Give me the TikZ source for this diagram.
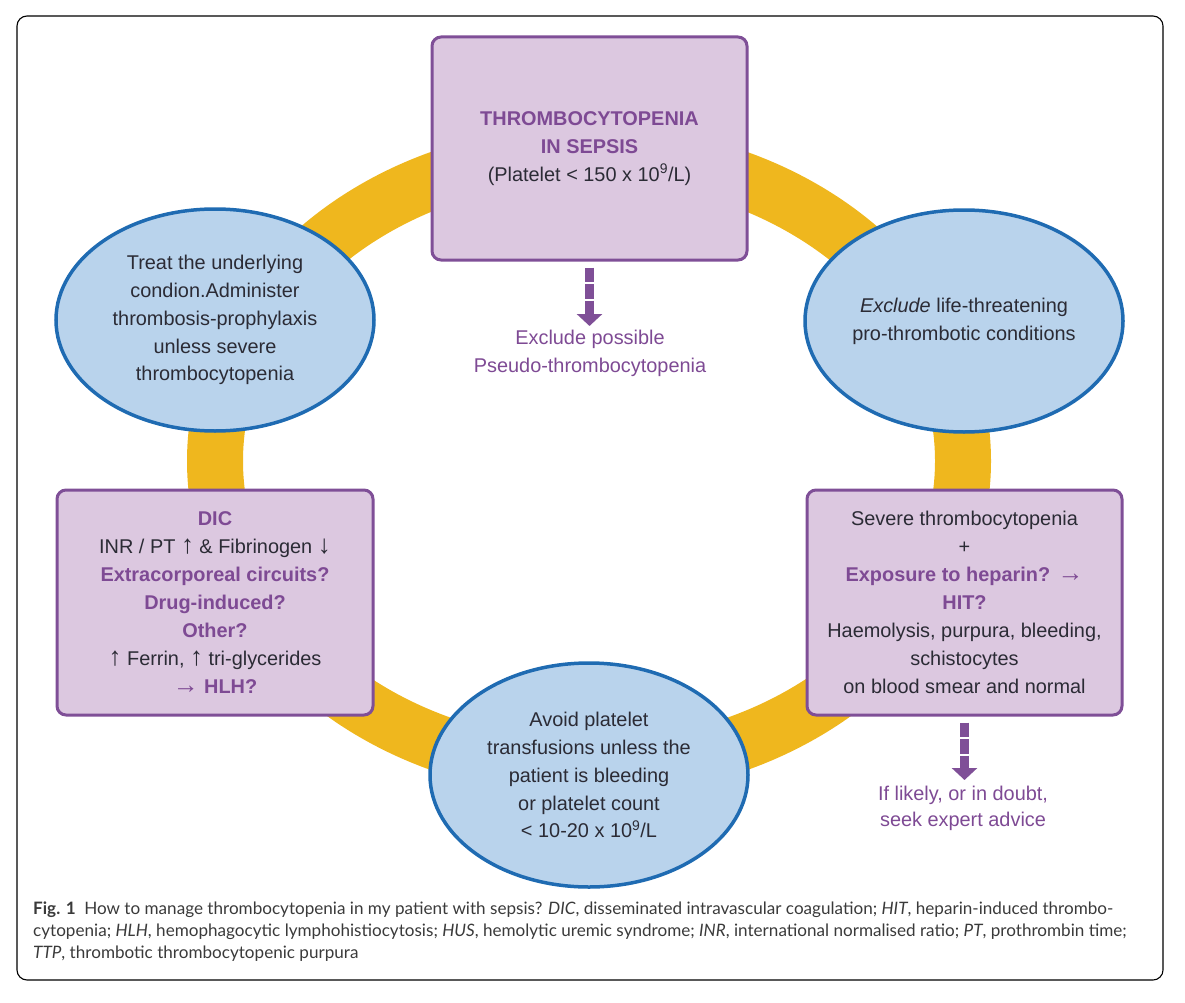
\documentclass[tikz,border=0pt]{standalone}
\usepackage{fontspec}
\usepackage{graphicx}
\setmainfont{Liberation Sans}
\newfontfamily\capfont{Lato}
\usetikzlibrary{shapes.geometric,arrows.meta}
\definecolor{ringY}{HTML}{EFB71E}
\definecolor{boxF}{HTML}{DCC8E0}
\definecolor{boxD}{HTML}{7F4F97}
\definecolor{purT}{HTML}{7E4A94}
\definecolor{ellF}{HTML}{B9D3EC}
\definecolor{ellD}{HTML}{1F6BB2}
\definecolor{txt}{HTML}{2B2B35}
\definecolor{capT}{HTML}{3A3A3A}
\newcommand\hlp[1]{\textcolor{purT}{\bfseries #1}}
\newcommand\bigarr[1]{\scalebox{1.3}{#1}}
\begin{document}
\begin{tikzpicture}[x=1pt,y=-1pt,
  mainfont/.style={font=\fontsize{19.9}{27.9}\selectfont, text=txt, align=center},
  pbox/.style={mainfont, draw=boxD, fill=boxF, line width=3pt, rounded corners=9pt, inner sep=0pt},
  bell/.style={mainfont, ellipse, draw=ellD, fill=ellF, line width=3.5pt, inner sep=0pt},
  fat/.style={draw=boxD, line width=9pt, dash pattern=on 14.5pt off 2pt, -{Triangle[length=12pt 0 0,width=25pt 0 0]}},
  note/.style={mainfont, text=purT},
  ring/.style={draw=ringY, line width=56pt}
]
\useasboundingbox (0,0) rectangle (1185,1003);
\draw[line width=1.1pt, rounded corners=10pt] (17,16) rectangle (1163,980);

% yellow ring
\draw[ring] (589,461) ellipse [x radius=374pt, y radius=308pt];

% top box
\node[pbox, minimum width=315pt, minimum height=223pt] (top) at (589.5,148.5)
  {\hlp{THROMBOCYTOPENIA}\\\hlp{IN SEPSIS}\\(Platelet < 150 x 10\textsuperscript{9}/L)};

% ellipses
\node[bell, minimum width=318pt, minimum height=222pt] (lell) at (215,320)
  {Treat the underlying\\condion.Administer\\thrombosis-prophylaxis\\unless severe\\thrombocytopenia};
\node[bell, minimum width=318pt, minimum height=222pt] (rell) at (964,321)
  {\textit{Exclude} life-threatening\\pro-thrombotic conditions};
\node[bell, minimum width=318pt, minimum height=224pt] (bell) at (589,775)
  {Avoid platelet\\transfusions unless the\\patient is bleeding\\or platelet count\\< 10-20 x 10\textsuperscript{9}/L};

% side boxes
\node[pbox, minimum width=316pt, minimum height=225pt] (lbox) at (215,602.5)
  {\hlp{DIC}\\INR / PT \bigarr{↑} \& Fibrinogen \bigarr{↓}\\\hlp{Extracorporeal circuits?}\\\hlp{Drug-induced?}\\\hlp{Other?}\\\bigarr{↑} Ferrin, \bigarr{↑} tri-glycerides\\\textcolor{purT}{\bigarr{→} \textbf{HLH?}}};
\node[pbox, minimum width=315pt, minimum height=225pt] (rbox) at (964.5,602.5)
  {Severe thrombocytopenia\\+\\\hlp{Exposure to heparin?} \textcolor{purT}{\bigarr{→}}\\\hlp{HIT?}\\Haemolysis, purpura, bleeding,\\schistocytes\\on blood smear and normal};

% arrows and notes
\coordinate (a1) at (589.5,326);
\draw[fat, shorten <=6pt] (top.south) -- (a1);
\node[note] (ex1) at (590,353) {Exclude possible\\Pseudo-thrombocytopenia};

\coordinate (a2) at (964.5,780);
\draw[fat, shorten <=6pt] (rbox.south) -- (a2);
\node[note, font=\fontsize{19.9}{25.5}\selectfont] (ex2) at (963,808.5) {If likely, or in doubt,\\seek expert advice};

% caption
\node[anchor=north west, inner sep=0pt, align=left, text=capT,
      font=\capfont\fontsize{17.1}{22}\selectfont] (cap) at (33,902)
  {\textbf{Fig. 1}\enspace How to manage thrombocytopenia in my patient with sepsis? \textit{DIC}, disseminated intravascular coagulation; \textit{HIT}, heparin-induced thrombo-\\
   cytopenia; \textit{HLH}, hemophagocytic lymphohistiocytosis; \textit{HUS}, hemolytic uremic syndrome; \textit{INR}, international normalised ratio; \textit{PT}, prothrombin time;\\
   \textit{TTP}, thrombotic thrombocytopenic purpura};
\end{tikzpicture}
\end{document}
